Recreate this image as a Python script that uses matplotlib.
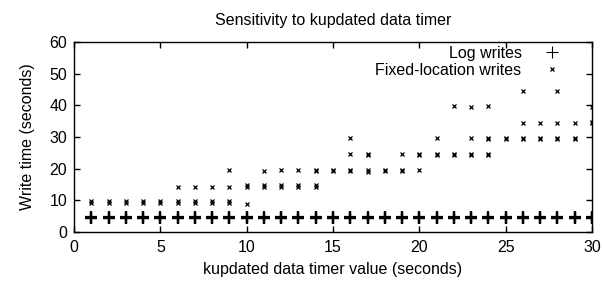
import matplotlib
matplotlib.use("Agg")
import matplotlib.pyplot as plt

plt.rcParams['font.family'] = ['Liberation Sans', 'DejaVu Sans']
plt.rcParams['font.size'] = 11.5

# fixed-location writes: several samples per timer value
fixed_x = ([1] * 2 + [2] * 2 + [3] * 2 + [4] * 2 + [5] * 2
           + [6] * 3 + [7] * 3 + [8] * 3 + [9] * 4 + [10] * 3
           + [11] * 3 + [12] * 3 + [13] * 3 + [14] * 4 + [15] * 2
           + [16] * 4 + [17] * 4 + [18] * 2 + [19] * 3 + [20] * 3
           + [21] * 3 + [22] * 3 + [23] * 4 + [24] * 5 + [25] * 2
           + [26] * 4 + [27] * 3 + [28] * 4 + [29] * 3 + [30] * 3)
fixed_y = [9.3, 9.7, 9.3, 9.7, 9.3, 9.7, 9.3, 9.7, 9.3, 9.7,
           9.3, 9.7, 14.3, 9.3, 9.7, 14.3, 9.3, 9.7, 14.3, 9.3, 9.7, 14.3, 19.7,
           9.0, 14.3, 14.7,
           14.3, 14.7, 19.2, 14.3, 14.7, 19.5, 14.3, 14.7, 19.5, 14.3, 14.7, 19.3, 19.7,
           19.3, 19.7,
           19.3, 19.7, 24.5, 29.6, 19.0, 19.5, 24.3, 24.7, 19.3, 19.7, 19.3, 19.7, 24.5,
           19.5, 24.3, 24.7,
           24.3, 24.7, 29.6, 24.3, 24.7, 39.7, 24.3, 24.7, 29.6, 39.5,
           24.3, 24.7, 29.3, 29.7, 39.8, 29.3, 29.7,
           29.3, 29.7, 34.5, 44.6, 29.3, 29.7, 34.5, 29.3, 29.7, 34.5, 44.6,
           29.3, 29.7, 34.5, 34.3, 34.7, 39.6]

# log writes: nearly constant around 4.5 s
log_x = [x for x in range(1, 31) for _ in range(3)]
log_y = [4.3, 4.5, 4.7] * 30

fig = plt.figure(figsize=(6.02, 2.81), dpi=100)
ax = fig.add_axes([74 / 602, 1 - 232 / 281, 518 / 602, 190 / 281])

ax.plot(log_x, log_y, linestyle='none', marker='+', markersize=8,
        markeredgewidth=1.6, color='black', label='Log writes')
ax.plot(fixed_x, fixed_y, linestyle='none', marker='x', markersize=3,
        markeredgewidth=0.9, color='black', label='Fixed-location writes')

ax.set_xlim(0, 30)
ax.set_ylim(0, 60)
ax.set_xticks(range(0, 31, 5))
ax.set_yticks(range(0, 61, 10))
ax.tick_params(direction='in', top=True, right=True, length=4, width=1)
ax.tick_params(axis='x', pad=6)
ax.tick_params(axis='y', pad=5)
for s in ax.spines.values():
    s.set_linewidth(1)

ax.set_xlabel('kupdated data timer value (seconds)', labelpad=5)
ax.set_ylabel('Write time (seconds)', labelpad=10)
ax.set_title('Sensitivity to kupdated data timer', fontsize=11.5, pad=12)

leg = ax.legend(loc='upper right', bbox_to_anchor=(1 - 13 / 518, 1 + 6 / 190),
                frameon=False, markerfirst=False,
                handlelength=2.2, handletextpad=0.8, borderaxespad=0.2,
                labelspacing=0.15)
leg.legend_handles[0].set_markersize(8)
leg.legend_handles[0].set_markeredgewidth(0.8)

fig.savefig('out.png', dpi=100)
